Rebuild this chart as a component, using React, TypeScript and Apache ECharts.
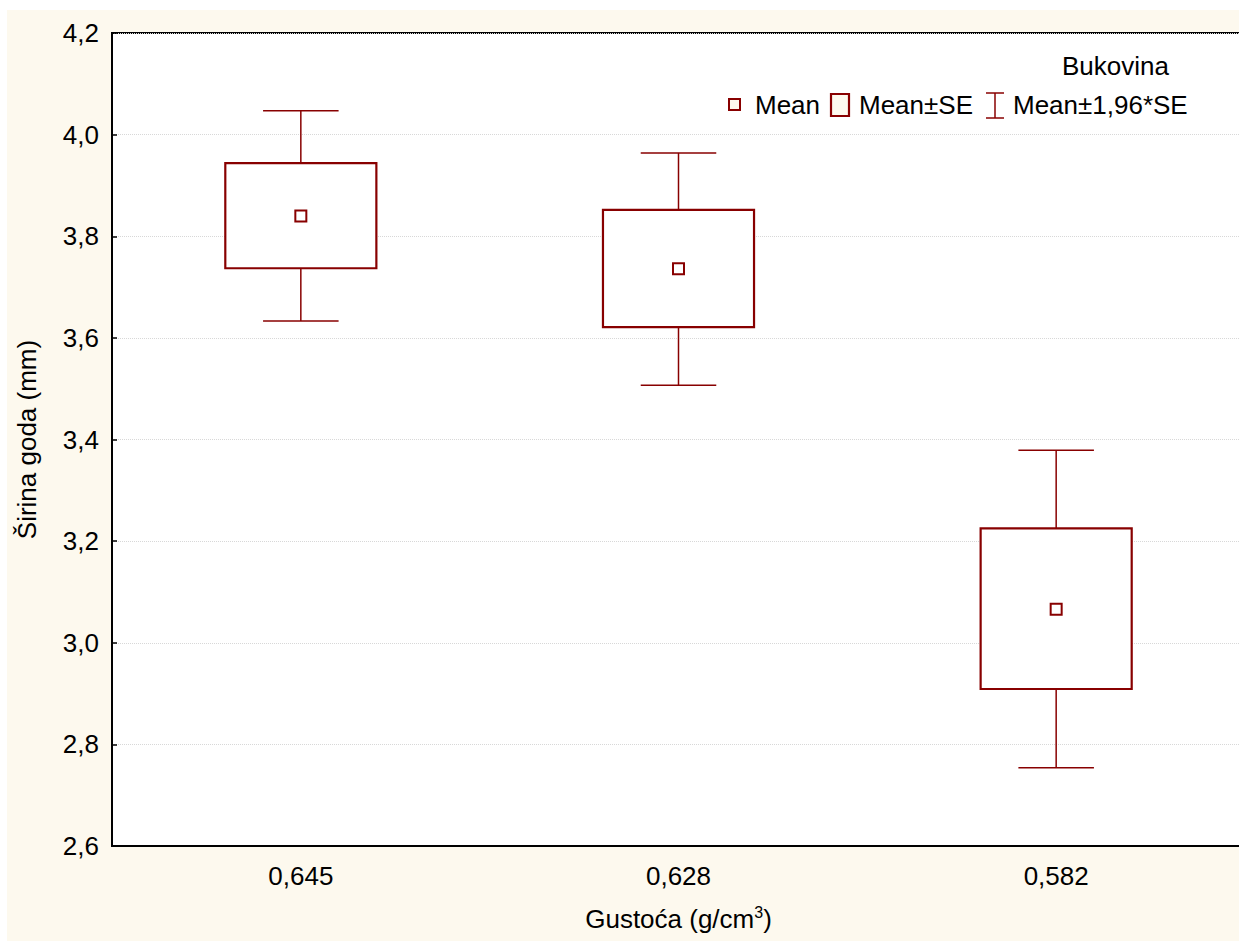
import React, { useEffect, useRef } from "react";
import * as echarts from "echarts";

const categories = ["0,645", "0,628", "0,582"];
const means = [3.84, 3.736, 3.066];
const seLow = [3.737, 3.621, 2.909];
const seHigh = [3.944, 3.852, 3.225];
const ciLow = [3.633, 3.507, 2.754];
const ciHigh = [4.047, 3.964, 3.379];
const yTicks = { min: 2.6, max: 4.2, interval: 0.2 };
const legendTitle = "Bukovina";
const legendLabels = ["Mean", "Mean±SE", "Mean±1,96*SE"];

const RED = "#880000";
const CREAM = "#fdf9ee";
const FONT = '"Liberation Sans", Arial, sans-serif';
const FS = 26;

export default function App() {
  const ref = useRef<HTMLDivElement>(null);
  useEffect(() => {
    if (!ref.current) return;
    const chart = echarts.init(ref.current, null, { renderer: "svg" });
    const data = categories.map((_, i) => [i, means[i], seLow[i], seHigh[i], ciLow[i], ciHigh[i]]);
    const option: any = {
      animation: false,
      backgroundColor: "transparent",
      textStyle: { fontFamily: FONT },
      grid: {
        left: 105,
        top: 23,
        width: 1133,
        height: 813,
        outerBoundsMode: "none",
        containLabel: false,
        show: true,
        backgroundColor: "#ffffff",
        borderColor: "#000",
        borderWidth: 2,
      },
      xAxis: {
        type: "category",
        data: categories,
        boundaryGap: true,
        name: "Gustoća (g/cm{sup|3})",
        nameLocation: "middle",
        nameGap: 58,
        nameTextStyle: {
          fontSize: FS,
          color: "#000",
          fontFamily: FONT,
          rich: { sup: { fontSize: 16, verticalAlign: "top", padding: [0, 0, 14, 0], color: "#000", fontFamily: FONT } },
        },
        axisLine: { lineStyle: { color: "#000", width: 2 } },
        axisTick: { inside: true, length: 5, alignWithLabel: true, lineStyle: { color: "#000", width: 1.5 } },
        axisLabel: { fontSize: FS, color: "#000", margin: 17, fontFamily: FONT },
        splitLine: { show: false },
      },
      yAxis: {
        type: "value",
        min: yTicks.min,
        max: yTicks.max,
        interval: yTicks.interval,
        name: "Širina goda (mm)",
        nameLocation: "middle",
        nameGap: 72,
        nameTextStyle: { fontSize: FS, color: "#000", fontFamily: FONT },
        axisLine: { show: true, lineStyle: { color: "#000", width: 2 } },
        axisTick: { show: true, inside: true, length: 5, lineStyle: { color: "#000", width: 1.5 } },
        axisLabel: {
          fontSize: FS,
          color: "#000",
          margin: 13,
          fontFamily: FONT,
          formatter: (v: number) => v.toFixed(1).replace(".", ","),
        },
        splitLine: { show: true, lineStyle: { color: "#d8d8d8", type: "dotted", width: 1 } },
      },
      series: [
        {
          type: "custom",
          name: "Bukovina",
          data,
          encode: { x: 0, y: [1, 2, 3, 4, 5] },
          renderItem: (params: any, api: any) => {
            const xi = api.value(0);
            const band = api.size([1, 0])[0];
            const boxW = band * 0.4;
            const capW = band * 0.2;
            const pm = api.coord([xi, api.value(1)]);
            const pSeLo = api.coord([xi, api.value(2)]);
            const pSeHi = api.coord([xi, api.value(3)]);
            const pCiLo = api.coord([xi, api.value(4)]);
            const pCiHi = api.coord([xi, api.value(5)]);
            const cx = pm[0];
            const lineStyle = { stroke: RED, lineWidth: 1.5 };
            return {
              type: "group",
              children: [
                { type: "line", shape: { x1: cx, y1: pCiHi[1], x2: cx, y2: pSeHi[1] }, style: lineStyle },
                { type: "line", shape: { x1: cx - capW / 2, y1: pCiHi[1], x2: cx + capW / 2, y2: pCiHi[1] }, style: lineStyle },
                { type: "line", shape: { x1: cx, y1: pSeLo[1], x2: cx, y2: pCiLo[1] }, style: lineStyle },
                { type: "line", shape: { x1: cx - capW / 2, y1: pCiLo[1], x2: cx + capW / 2, y2: pCiLo[1] }, style: lineStyle },
                {
                  type: "rect",
                  shape: { x: cx - boxW / 2, y: pSeHi[1], width: boxW, height: pSeLo[1] - pSeHi[1] },
                  style: { fill: "#ffffff", stroke: RED, lineWidth: 2.2 },
                },
                {
                  type: "rect",
                  shape: { x: cx - 5.5, y: pm[1] - 5.5, width: 11, height: 11 },
                  style: { fill: "#ffffff", stroke: RED, lineWidth: 2 },
                },
              ],
            };
          },
        },
      ],
      graphic: [
        {
          type: "text",
          x: 1055,
          y: 56,
          style: { text: legendTitle, font: `${FS}px ${FONT}`, fill: "#000", verticalAlign: "middle" },
        },
        { type: "rect", shape: { x: 722, y: 89, width: 11, height: 11 }, style: { fill: CREAM, stroke: RED, lineWidth: 2 } },
        {
          type: "text",
          x: 748,
          y: 95,
          style: { text: legendLabels[0], font: `${FS}px ${FONT}`, fill: "#000", verticalAlign: "middle" },
        },
        { type: "rect", shape: { x: 824, y: 84, width: 18, height: 22 }, style: { fill: CREAM, stroke: RED, lineWidth: 2.2 } },
        {
          type: "text",
          x: 852,
          y: 95,
          style: { text: legendLabels[1], font: `${FS}px ${FONT}`, fill: "#000", verticalAlign: "middle" },
        },
        { type: "line", shape: { x1: 988, y1: 83, x2: 988, y2: 108 }, style: { stroke: RED, lineWidth: 1.5 } },
        { type: "line", shape: { x1: 979, y1: 83, x2: 997, y2: 83 }, style: { stroke: RED, lineWidth: 1.5 } },
        { type: "line", shape: { x1: 979, y1: 108, x2: 997, y2: 108 }, style: { stroke: RED, lineWidth: 1.5 } },
        {
          type: "text",
          x: 1006,
          y: 95,
          style: { text: legendLabels[2], font: `${FS}px ${FONT}`, fill: "#000", verticalAlign: "middle" },
        },
      ],
    };
    chart.setOption(option);
    return () => chart.dispose();
  }, []);
  return (
    <div
      style={{
        position: "absolute",
        left: 7,
        top: 10,
        width: 1232,
        height: 931,
        background: CREAM,
        overflow: "hidden",
      }}
    >
      <div ref={ref} style={{ width: 1260, height: 931 }} />
    </div>
  );
}
